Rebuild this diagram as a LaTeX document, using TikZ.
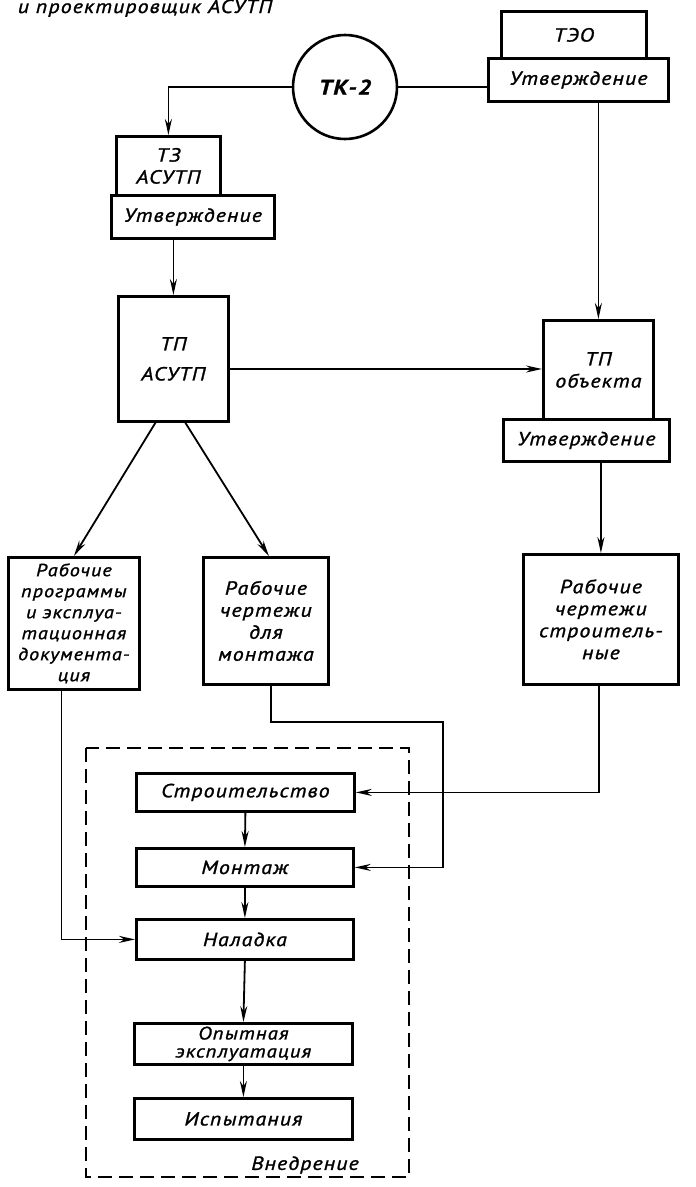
\documentclass[tikz,border=0pt]{standalone}
\usepackage{fontspec}
\setmainfont{PT Sans}[FakeStretch=1.15, LetterSpace=6, FakeBold=1.3]
\usetikzlibrary{arrows.meta}
\begin{document}
\begin{tikzpicture}[x=1pt,y=-1pt,
  txt/.style={font=\fontsize{19}{22}\selectfont\itshape},
  box/.style={draw, line width=2.8pt, inner sep=0pt, align=center, anchor=north west, txt},
  conn/.style={line width=1.8pt},
  arr/.style={conn, -{Stealth[length=16pt,width=7pt]}},
  lbl/.style={txt, inner sep=0pt}]
\useasboundingbox (0,0) rectangle (696,1187);
% top caption (cut by the page edge in the reference)
\node[lbl, anchor=base] (cap) at (145,13) {и проектировщик АСУТП};
% top right
\node[box, minimum width=145pt, minimum height=47pt] (teo) at (500,10) {ТЭО};
\node[box, minimum width=180pt, minimum height=43pt] (utv1) at (487,57) {Утверждение};
\node[draw, circle, line width=2.6pt, minimum size=104pt, inner sep=0pt,
  font=\fontsize{21}{22}\selectfont\itshape\bfseries] (tk) at (345,87) {ТК-2};
% left top
\node[box, minimum width=104pt, minimum height=59pt] (tz) at (115,135) {ТЗ\\АСУТП};
\node[box, minimum width=163pt, minimum height=43pt] (utv2) at (110,194) {Утверждение};
\node[box, minimum width=110pt, minimum height=125pt] (tpa) at (117,295) {ТП\\[8pt]АСУТП};
% right middle
\node[box, minimum width=110pt, minimum height=99pt] (tpo) at (542,319) {ТП\\объекта};
\node[box, minimum width=166pt, minimum height=42pt] (utv3) at (502,418) {Утверждение};
% working documents
\node[box, minimum width=131pt, minimum height=132pt,
  font=\fontsize{17.5}{21}\selectfont\itshape] (b1) at (7,556)
  {Рабочие\\программы\\и эксплуа-\\тационная\\документа-\\ция};
\node[box, minimum width=125pt, minimum height=127pt] (b2) at (202,556)
  {Рабочие\\чертежи\\для\\монтажа};
\node[box, minimum width=155pt, minimum height=130pt] (rcs) at (522,553)
  {Рабочие\\чертежи\\строитель-\\ные};
% implementation block
\node[box, minimum width=218pt, minimum height=38pt] (str) at (135,772) {Строительство};
\node[box, minimum width=217pt, minimum height=38pt] (mon) at (135,847) {Монтаж};
\node[box, minimum width=217pt, minimum height=40pt] (nal) at (135,918) {Наладка};
\node[box, minimum width=218pt, minimum height=41pt,
  font=\fontsize{18}{18}\selectfont\itshape] (op) at (133,1022) {Опытная\\эксплуатация};
\node[box, minimum width=218pt, minimum height=41pt] (isp) at (133,1097) {Испытания};
\draw[line width=2.2pt, dash pattern=on 14pt off 7pt] (86,748) rectangle (409,1177);
\node[lbl] (vn) at (305,1165) {Внедрение};
% connectors
\draw[conn] (tk.east) -- (tk.east -| utv1.west);
\draw[arr] (tk.west) -| (tz.north);
\draw[arr] (tpa.north |- utv2.south) -- (tpa.north);
\draw[arr] (tpo.north |- utv1.south) -- (tpo.north);
\coordinate (hy) at (0,369);
\draw[arr] (tpa.east |- hy) -- (tpo.west |- hy);
\draw[arr] (rcs.north |- utv3.south) -- (rcs.north);
\draw[arr] ([xshift=-18pt]tpa.south) -- (b1.north);
\draw[arr] ([xshift=12pt]tpa.south) -- ([xshift=3pt]b2.north);
\draw[arr] ([xshift=-12.5pt]b1.south) |- (nal.west);
\coordinate (m1) at (443,722);
\draw[arr] ([xshift=5pt]b2.south) |- (m1) |- (mon.east);
\draw[arr] ([xshift=-2pt]rcs.south) |- (str.east);
\draw[arr] (str.south) -- (mon.north);
\draw[arr] (mon.south) -- (nal.north);
\draw[arr] (nal.south) -- (op.north);
\draw[arr] (op.south) -- (isp.north);
\end{tikzpicture}
\end{document}
